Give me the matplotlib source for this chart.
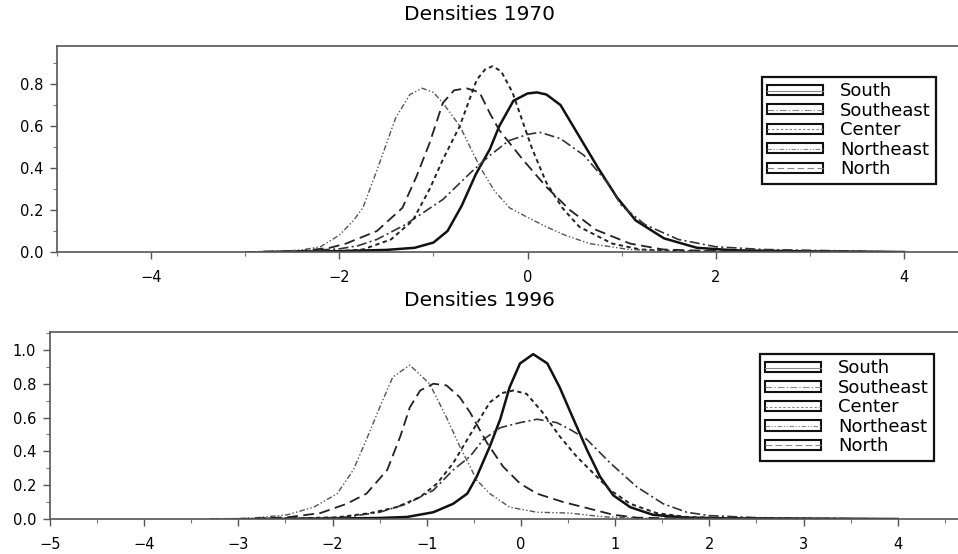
"""Kernel densities of regional income, 1970 and 1996."""
import matplotlib
matplotlib.use("Agg")
import matplotlib.pyplot as plt
from matplotlib.legend_handler import HandlerTuple
from matplotlib.lines import Line2D
from matplotlib.patches import Rectangle
from matplotlib.ticker import MultipleLocator

plt.rcParams["font.family"] = ["DejaVu Sans"]

regions = ["South", "Southeast", "Center", "Northeast", "North"]

south_1970_x = [-2.8, -2.0, -1.5, -1.2, -1.0, -0.85, -0.7, -0.55, -0.4, -0.3, -0.15, 0.0, 0.1,
                0.2, 0.35, 0.55, 0.75, 0.95, 1.15, 1.45, 1.8, 2.2, 3.0, 4.0]
south_1970_y = [0.0, 0.004, 0.01, 0.02, 0.045, 0.1, 0.22, 0.37, 0.49, 0.6, 0.72, 0.755, 0.76,
                0.75, 0.70, 0.55, 0.40, 0.26, 0.15, 0.065, 0.02, 0.008, 0.003, 0.0]
southeast_1970_x = [-3.0, -2.4, -2.0, -1.8, -1.6, -1.3, -1.1, -0.9, -0.6, -0.4, -0.2, 0.0, 0.13,
                    0.35, 0.6, 0.85, 1.0, 1.25, 1.6, 2.0, 2.5, 3.0, 3.5, 4.0]
southeast_1970_y = [0.0, 0.005, 0.015, 0.03, 0.06, 0.13, 0.19, 0.25, 0.38, 0.46, 0.53, 0.56, 0.57,
                    0.54, 0.46, 0.33, 0.22, 0.13, 0.06, 0.025, 0.012, 0.008, 0.004, 0.0]
center_1970_x = [-2.6, -2.0, -1.75, -1.45, -1.22, -1.04, -0.9, -0.72, -0.54, -0.45, -0.37, -0.28,
                 -0.16, 0.05, 0.2, 0.37, 0.55, 0.9, 1.2, 1.6, 2.0, 3.0, 4.0]
center_1970_y = [0.0, 0.004, 0.012, 0.06, 0.15, 0.30, 0.44, 0.60, 0.82, 0.87, 0.885, 0.86,
                 0.76, 0.49, 0.33, 0.21, 0.12, 0.04, 0.012, 0.005, 0.003, 0.001, 0.0]
northeast_1970_x = [-3.0, -2.6, -2.4, -2.2, -2.0, -1.85, -1.75, -1.6, -1.4, -1.25, -1.12, -1.0,
                    -0.9, -0.72, -0.6, -0.5, -0.35, -0.19, 0.0, 0.2, 0.4, 0.66, 1.08, 1.5, 2.0,
                    3.0, 4.0]
northeast_1970_y = [0.0, 0.004, 0.01, 0.025, 0.08, 0.15, 0.21, 0.39, 0.64, 0.75, 0.78, 0.76,
                    0.71, 0.60, 0.49, 0.40, 0.29, 0.21, 0.165, 0.12, 0.08, 0.04, 0.012, 0.005,
                    0.002, 0.001, 0.0]
north_1970_x = [-2.8, -2.4, -2.1, -1.93, -1.6, -1.33, -1.18, -1.04, -0.9, -0.78, -0.65, -0.51,
                -0.4, -0.3, -0.05, 0.2, 0.45, 0.73, 1.09, 1.44, 2.0, 3.0, 4.0]
north_1970_y = [0.0, 0.005, 0.02, 0.04, 0.10, 0.21, 0.36, 0.52, 0.71, 0.77, 0.78, 0.76,
                0.66, 0.58, 0.44, 0.31, 0.20, 0.105, 0.04, 0.012, 0.004, 0.002, 0.0]

# ---- 1996 ----
south_1996_x = [-2.8, -2.0, -1.5, -1.21, -0.93, -0.72, -0.57, -0.47, -0.33, -0.22, -0.12, -0.01,
                0.13, 0.28, 0.41, 0.55, 0.7, 0.84, 0.98, 1.16, 1.4, 1.76, 2.2, 3.0, 4.0]
south_1996_y = [0.0, 0.003, 0.006, 0.012, 0.04, 0.09, 0.15, 0.25, 0.43, 0.59, 0.78, 0.92,
                0.975, 0.92, 0.78, 0.60, 0.41, 0.25, 0.14, 0.07, 0.025, 0.008, 0.004, 0.002, 0.0]
southeast_1996_x = [-3.3, -2.5, -2.0, -1.85, -1.5, -1.21, -0.93, -0.72, -0.54, -0.4, -0.22, -0.01,
                    0.17, 0.38, 0.52, 0.7, 0.95, 1.23, 1.51, 1.76, 2.0, 2.5, 3.0, 3.5, 4.0]
southeast_1996_y = [0.0, 0.003, 0.008, 0.012, 0.04, 0.09, 0.17, 0.29, 0.37, 0.47, 0.54, 0.57,
                    0.59, 0.57, 0.53, 0.47, 0.33, 0.19, 0.09, 0.04, 0.02, 0.008, 0.004, 0.002, 0.0]
center_1996_x = [-3.0, -2.4, -1.95, -1.6, -1.32, -1.07, -0.89, -0.72, -0.57, -0.44, -0.33, -0.2,
                 -0.08, 0.06, 0.23, 0.41, 0.59, 0.77, 0.95, 1.16, 1.44, 1.76, 2.2, 3.0, 4.0]
center_1996_y = [0.0, 0.004, 0.01, 0.035, 0.07, 0.13, 0.21, 0.33, 0.47, 0.59, 0.69, 0.745,
                 0.76, 0.74, 0.63, 0.49, 0.37, 0.27, 0.17, 0.09, 0.035, 0.012, 0.005, 0.002, 0.0]
northeast_1996_x = [-3.3, -2.85, -2.48, -2.2, -1.95, -1.78, -1.64, -1.5, -1.36, -1.18, -0.97,
                    -0.79, -0.65, -0.54, -0.47, -0.33, -0.12, 0.17, 0.52, 0.87, 1.3, 2.0, 3.0, 4.0]
northeast_1996_y = [0.0, 0.005, 0.025, 0.07, 0.15, 0.29, 0.47, 0.66, 0.84, 0.91, 0.80,
                    0.60, 0.43, 0.31, 0.23, 0.15, 0.07, 0.04, 0.035, 0.013, 0.005, 0.003, 0.001, 0.0]
north_1996_x = [-3.0, -2.48, -2.13, -1.85, -1.64, -1.42, -1.28, -1.18, -1.07, -0.93, -0.79, -0.65,
                -0.54, -0.36, -0.19, -0.01, 0.17, 0.45, 0.7, 0.98, 1.23, 1.6, 2.2, 3.0, 4.0]
north_1996_y = [0.0, 0.01, 0.035, 0.09, 0.15, 0.29, 0.49, 0.66, 0.76, 0.80, 0.79, 0.72,
                0.63, 0.45, 0.31, 0.21, 0.15, 0.10, 0.065, 0.025, 0.008, 0.004, 0.002, 0.001, 0.0]

curves_1970 = [(south_1970_x, south_1970_y), (southeast_1970_x, southeast_1970_y),
               (center_1970_x, center_1970_y), (northeast_1970_x, northeast_1970_y),
               (north_1970_x, north_1970_y)]
curves_1996 = [(south_1996_x, south_1996_y), (southeast_1996_x, southeast_1996_y),
               (center_1996_x, center_1996_y), (northeast_1996_x, northeast_1996_y),
               (north_1996_x, north_1996_y)]

# line look per region: (dashes, width, colour)
styles = [
    (None, 1.8, "#111111"),
    ((6, 2, 1.2, 2), 1.2, "#333333"),
    ((2.2, 1.8), 1.4, "#222222"),
    ((4, 1.6, 1, 1.6, 1, 1.6), 1.0, "#555555"),
    ((6, 3), 1.3, "#222222"),
]


def draw_panel(ax, curves, xmax, ymax, xmajor, xminor, anchor):
    for (xs, ys), (dash, lw, col) in zip(curves, styles):
        line, = ax.plot(xs, ys, color=col, lw=lw)
        if dash:
            line.set_dashes(dash)
    ax.set_xlim(-5, xmax)
    ax.set_ylim(0, ymax)
    ax.xaxis.set_major_locator(MultipleLocator(xmajor))
    ax.xaxis.set_minor_locator(MultipleLocator(xminor))
    ax.yaxis.set_major_locator(MultipleLocator(0.2))
    ax.yaxis.set_minor_locator(MultipleLocator(0.1))
    ax.yaxis.set_major_formatter(plt.FormatStrFormatter("%.1f"))
    ax.spines["right"].set_visible(False)
    for s in ("left", "bottom", "top"):
        ax.spines[s].set_color("#555555")
        ax.spines[s].set_linewidth(1.2)
    ax.tick_params(which="major", direction="out", length=5, width=1, color="#555555",
                   labelsize=10.5, pad=5)
    ax.tick_params(which="minor", direction="out", length=3, width=0.8, color="#777777")
    ax.tick_params(axis="x", pad=8)

    handles = []
    for dash, lw, col in styles:
        box = Rectangle((0, 0), 1, 1, facecolor="white", edgecolor="#111111", lw=1.5)
        ln = Line2D([], [], color="#888888", lw=0.8)
        if dash:
            ln.set_dashes(dash)
        handles.append((box, ln))
    leg = ax.legend(handles, regions, handler_map={tuple: HandlerTuple(ndivide=1)},
                    loc="upper right", bbox_to_anchor=anchor, borderaxespad=0,
                    fontsize=13, handlelength=3.1, handleheight=0.5, handletextpad=0.95,
                    labelspacing=0.08, borderpad=0.3, fancybox=False, framealpha=1)
    leg.get_frame().set_edgecolor("#111111")
    leg.get_frame().set_linewidth(1.6)


fig = plt.figure(figsize=(9.58, 5.54), dpi=100)
ax_top = fig.add_axes([57 / 958, 302 / 554, 901 / 958, 206 / 554])
ax_bot = fig.add_axes([50 / 958, 35 / 554, 908 / 958, 187 / 554])

draw_panel(ax_top, curves_1970, 4.574, 0.981, 2, 1, (0.976, 0.85))
draw_panel(ax_bot, curves_1996, 4.64, 1.106, 1, 0.5, (0.974, 0.882))

fig.text(0.5, 1 - 14 / 554, "Densities 1970", ha="center", va="center", fontsize=14.5)
fig.text(0.5, 1 - 300 / 554, "Densities 1996", ha="center", va="center", fontsize=14.5)

fig.savefig("out.png", dpi=100)
